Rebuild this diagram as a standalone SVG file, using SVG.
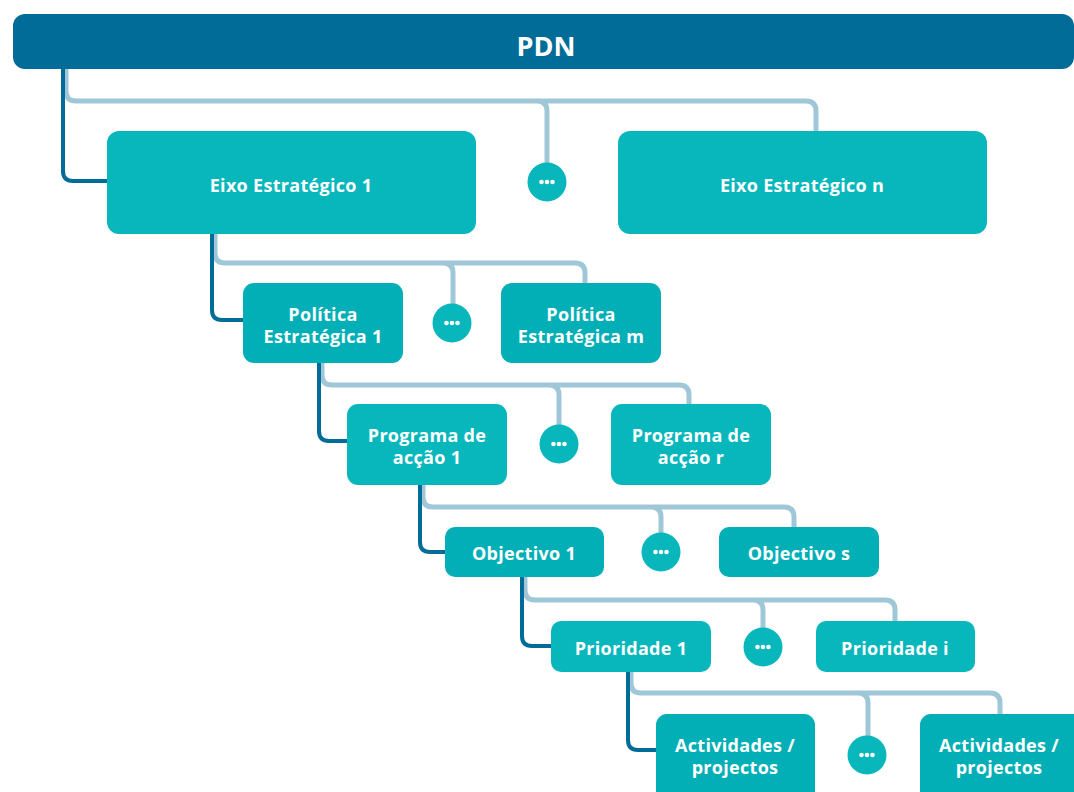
<svg xmlns="http://www.w3.org/2000/svg" width="1074" height="792" viewBox="0 0 1074 792">
  <style>
    .bar { fill: #016c98; }
    .node { fill: #08b7bc; }
    .node2 { fill: #02afb6; }
    .lbl { font-family: "Open Sans", Lato, "Liberation Sans", sans-serif; font-weight: 700; font-size: 18px; letter-spacing: 0.3px; fill: #ffffff; text-anchor: middle; }
    .title { font-family: "Open Sans", Lato, "Liberation Sans", sans-serif; font-weight: 700; font-size: 27px; fill: #ffffff; text-anchor: middle; }
    .main { fill: none; stroke: #016c98; stroke-width: 4; }
    .alt { fill: none; stroke: #9fc7d7; stroke-width: 5; }
    .dot { fill: #ffffff; }
  </style>
  <defs>
    <g id="more">
      <circle r="19.5" class="node"/>
      <circle cx="-5.5" r="2.3" class="dot"/>
      <circle cx="0" r="2.3" class="dot"/>
      <circle cx="5.5" r="2.3" class="dot"/>
    </g>
  </defs>
  <rect width="1074" height="792" fill="#ffffff"/>

  <!-- connectors: light branches to siblings, dark spine to first child -->
  <g id="connectors">
    <path class="alt" d="M66 69 V91 Q66 101 76 101 H537 Q547 101 547 111 V164 M537 101 H806 Q816 101 816 111 V132"/>
    <path class="main" d="M63 69 V171 Q63 181 73 181 H108"/>

    <path class="alt" d="M215 234 V253 Q215 263 225 263 H443 Q453 263 453 273 V304 M443 263 H575 Q585 263 585 273 V284"/>
    <path class="main" d="M212 234 V310 Q212 320 222 320 H244"/>

    <path class="alt" d="M322 363 V375 Q322 385 332 385 H549 Q559 385 559 395 V425 M549 385 H679 Q689 385 689 395 V405"/>
    <path class="main" d="M319 363 V431 Q319 441 329 441 H348"/>

    <path class="alt" d="M423 485 V497 Q423 507 433 507 H651 Q661 507 661 517 V533 M651 507 H784 Q794 507 794 517 V528"/>
    <path class="main" d="M420 485 V542 Q420 552 430 552 H446"/>

    <path class="alt" d="M525 577 V590 Q525 600 535 600 H753 Q763 600 763 610 V628 M753 600 H885 Q895 600 895 610 V622"/>
    <path class="main" d="M522 577 V636 Q522 646 532 646 H552"/>

    <path class="alt" d="M631 672 V683 Q631 693 641 693 H858 Q868 693 868 703 V736 M858 693 H990 Q1000 693 1000 703 V715"/>
    <path class="main" d="M628 672 V740 Q628 750 638 750 H657"/>
  </g>

  <g id="pdn">
    <rect class="bar" x="13" y="14" width="1061" height="55" rx="12"/>
    <text class="title" x="546" y="56">PDN</text>
  </g>

  <g id="eixo-1">
    <rect class="node" x="107" y="131" width="369" height="103" rx="12"/>
    <text class="lbl" x="291" y="192">Eixo Estratégico 1</text>
  </g>
  <g id="eixo-more"><use href="#more" x="547" y="182"/></g>
  <g id="eixo-n">
    <rect class="node" x="618" y="131" width="369" height="103" rx="12"/>
    <text class="lbl" x="802" y="192">Eixo Estratégico n</text>
  </g>

  <g id="politica-1">
    <rect class="node2" x="243" y="283" width="160" height="80" rx="11"/>
    <text class="lbl" x="323" y="321">Política</text>
    <text class="lbl" x="323" y="343">Estratégica 1</text>
  </g>
  <g id="politica-more"><use href="#more" x="452" y="323"/></g>
  <g id="politica-m">
    <rect class="node2" x="501" y="283" width="160" height="80" rx="11"/>
    <text class="lbl" x="581" y="321">Política</text>
    <text class="lbl" x="581" y="343">Estratégica m</text>
  </g>

  <g id="programa-1">
    <rect class="node" x="347" y="404" width="160" height="81" rx="11"/>
    <text class="lbl" x="427" y="442">Programa de</text>
    <text class="lbl" x="427" y="464">acção 1</text>
  </g>
  <g id="programa-more"><use href="#more" x="559" y="444"/></g>
  <g id="programa-r">
    <rect class="node" x="611" y="404" width="160" height="81" rx="11"/>
    <text class="lbl" x="691" y="442">Programa de</text>
    <text class="lbl" x="691" y="464">acção r</text>
  </g>

  <g id="objectivo-1">
    <rect class="node2" x="445" y="527" width="159" height="50" rx="10"/>
    <text class="lbl" x="524" y="560">Objectivo 1</text>
  </g>
  <g id="objectivo-more"><use href="#more" x="661" y="552"/></g>
  <g id="objectivo-s">
    <rect class="node2" x="719" y="527" width="160" height="50" rx="10"/>
    <text class="lbl" x="799" y="560">Objectivo s</text>
  </g>

  <g id="prioridade-1">
    <rect class="node" x="551" y="621" width="160" height="51" rx="10"/>
    <text class="lbl" x="631" y="655">Prioridade 1</text>
  </g>
  <g id="prioridade-more"><use href="#more" x="763" y="647"/></g>
  <g id="prioridade-i">
    <rect class="node" x="816" y="621" width="159" height="51" rx="10"/>
    <text class="lbl" x="895" y="655">Prioridade i</text>
  </g>

  <g id="actividades-1">
    <rect class="node2" x="656" y="714" width="159" height="90" rx="11"/>
    <text class="lbl" x="735" y="752">Actividades /</text>
    <text class="lbl" x="735" y="774">projectos</text>
  </g>
  <g id="actividades-more"><use href="#more" x="867" y="755"/></g>
  <g id="actividades-n">
    <rect class="node2" x="920" y="714" width="170" height="90" rx="11"/>
    <text class="lbl" x="999" y="752">Actividades /</text>
    <text class="lbl" x="999" y="774">projectos</text>
  </g>
</svg>
